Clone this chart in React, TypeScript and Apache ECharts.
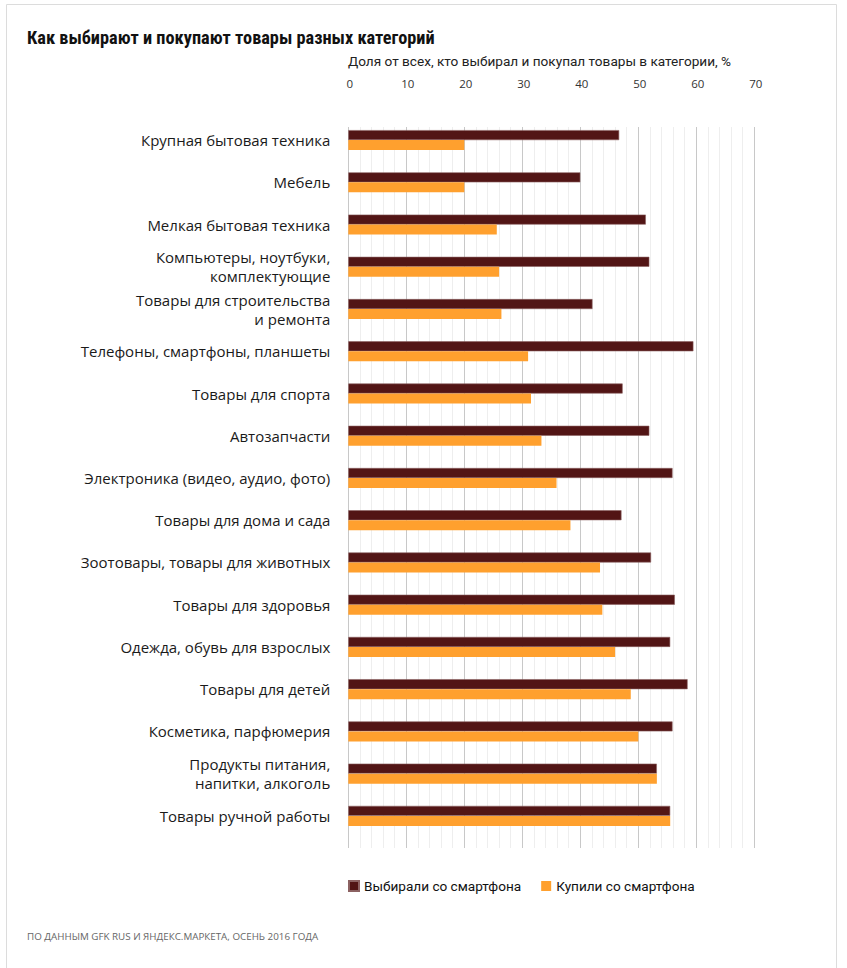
import React, { useEffect, useRef } from "react";
import * as echarts from "echarts";

const categories = [
  "Крупная бытовая техника",
  "Мебель",
  "Мелкая бытовая техника",
  "Компьютеры, ноутбуки,\nкомплектующие",
  "Товары для строительства\nи ремонта",
  "Телефоны, смартфоны, планшеты",
  "Товары для спорта",
  "Автозапчасти",
  "Электроника (видео, аудио, фото)",
  "Товары для дома и сада",
  "Зоотовары, товары для животных",
  "Товары для здоровья",
  "Одежда, обувь для взрослых",
  "Товары для детей",
  "Косметика, парфюмерия",
  "Продукты питания,\nнапитки, алкоголь",
  "Товары ручной работы",
];

const chose = [46.7, 40.0, 51.3, 51.9, 42.1, 59.5, 47.3, 51.9, 55.9, 47.1, 52.2, 56.3, 55.5, 58.5, 55.9, 53.2, 55.5];
const bought = [20.0, 20.0, 25.6, 26.0, 26.4, 31.0, 31.5, 33.3, 35.9, 38.3, 43.4, 43.8, 46.0, 48.7, 50.0, 53.2, 55.5];

const seriesNames = ["Выбирали со смартфона", "Купили со смартфона"];
const titleText = "Как выбирают и покупают товары разных категорий";
const axisTitle = "Доля от всех, кто выбирал и покупал товары в категории, %";
const sourceText = "ПО ДАННЫМ GFK RUS И ЯНДЕКС.МАРКЕТА, ОСЕНЬ 2016 ГОДА";

export default function App() {
  const ref = useRef<HTMLDivElement>(null);
  useEffect(() => {
    if (!ref.current) return;
    const chart = echarts.init(ref.current, null, { renderer: "svg" });
    const left = 348.3;
    const width = 406;
    chart.setOption({
      animation: false,
      backgroundColor: "#ffffff",
      graphic: [
        {
          type: "rect",
          shape: { x: 6.5, y: 4.5, width: 830, height: 1000 },
          style: { fill: "none", stroke: "#dcdcdc", lineWidth: 1 },
          silent: true,
        },
        {
          type: "text",
          x: 27,
          y: 28,
          style: {
            text: titleText,
            font: "bold 18.3px 'Liberation Sans Narrow', 'Roboto Condensed', Roboto, sans-serif",
            fill: "#111",
          },
        },
        {
          type: "text",
          x: 348,
          y: 54,
          style: {
            text: axisTitle,
            font: "13.6px 'Liberation Sans Narrow', Roboto, sans-serif",
            fill: "#222",
          },
        },
        {
          type: "text",
          x: 27,
          y: 931,
          style: {
            text: sourceText,
            font: "9.8px 'Open Sans', sans-serif",
            fill: "#666",
          },
        },
      ],
      legend: {
        left: 348,
        top: 879,
        padding: 0,
        itemWidth: 10,
        itemHeight: 10,
        itemGap: 20,
        icon: "rect",
        data: seriesNames,
        textStyle: {
          fontFamily: "'Liberation Sans Narrow', Roboto, sans-serif",
          fontSize: 13.6,
          color: "#111",
        },
      },
      grid: [
        { left: left, width: width, top: 119, height: 718 },
        { left: left, width: width, top: 127, height: 721 },
      ],
      xAxis: [
        {
          type: "value",
          gridIndex: 0,
          position: "top",
          min: 0,
          max: 70,
          interval: 10,
          axisLine: { show: false },
          axisTick: { show: false },
          splitLine: { show: false },
          axisLabel: {
            margin: 30,
            fontFamily: "'Open Sans', sans-serif",
            fontSize: 11.5,
            color: "#333",
            padding: [0, 0, 0, 3],
          },
        },
        {
          type: "value",
          gridIndex: 1,
          min: 0,
          max: 70,
          interval: 10,
          axisLine: { show: false },
          axisTick: { show: false },
          axisLabel: { show: false },
          splitLine: { show: true, lineStyle: { color: "#c8c8c8", width: 1 } },
          minorTick: { show: false, splitNumber: 5 },
          minorSplitLine: { show: true, lineStyle: { color: "#eeeeee", width: 1 } },
        },
      ],
      yAxis: [
        {
          type: "category",
          gridIndex: 0,
          inverse: true,
          data: categories,
          axisLine: { show: false },
          axisTick: { show: false },
          axisLabel: {
            margin: 18,
            fontFamily: "'Open Sans', sans-serif",
            fontSize: 15,
            lineHeight: 19,
            color: "#1a1a1a",
            align: "right",
            padding: [0, 0, 4, 0],
          },
        },
        {
          type: "value",
          gridIndex: 1,
          show: false,
          min: 0,
          max: 1,
        },
      ],
      series: [
        {
          name: seriesNames[0],
          type: "bar",
          xAxisIndex: 0,
          yAxisIndex: 0,
          data: chose,
          barWidth: 10,
          barGap: "0%",
          itemStyle: { color: "#521515", borderColor: "#8c6262", borderWidth: 0.6 },
          z: 3,
        },
        {
          name: seriesNames[1],
          type: "bar",
          xAxisIndex: 0,
          yAxisIndex: 0,
          data: bought,
          barWidth: 10,
          barGap: "0%",
          itemStyle: { color: "#ffa02e" },
          z: 3,
        },
      ],
    });
    return () => chart.dispose();
  }, []);
  return (
    <div
      ref={ref}
      style={{ position: "fixed", left: 0, top: 0, width: 847, height: 968 }}
    />
  );
}
